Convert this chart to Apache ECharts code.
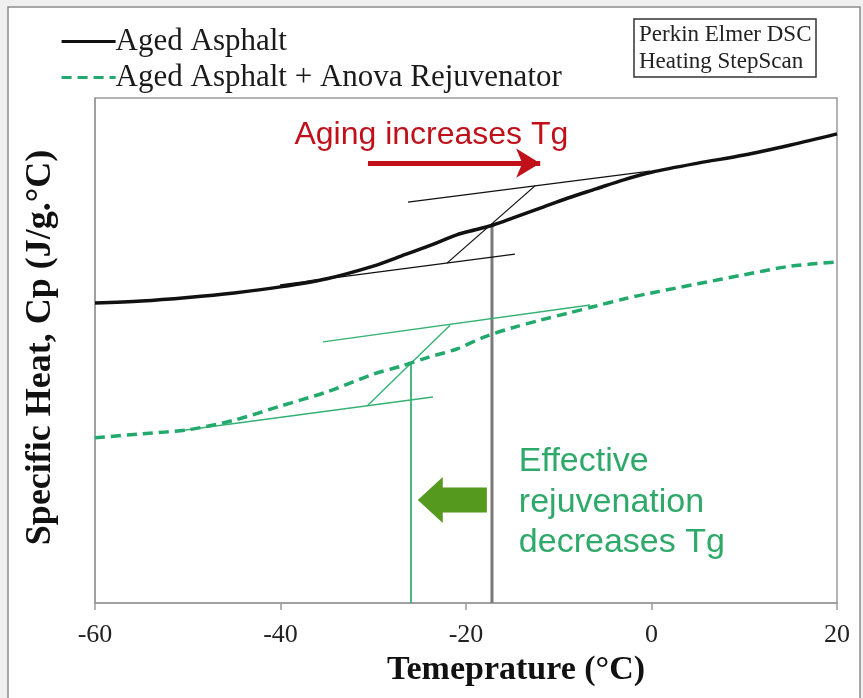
<!DOCTYPE html>
<html>
<head>
<meta charset="utf-8">
<script src="https://cdn.jsdelivr.net/npm/echarts@6/dist/echarts.min.js"></script>
<style>html,body{margin:0;padding:0;background:#f0f0f0;}#c{width:863px;height:698px;}</style>
</head>
<body>
<div id="c"></div>
<script>
// ---- data ----
const xTickLabels = [-60, -40, -20, 0, 20];
const agedTemp = [-60, -55, -50, -45, -40, -35, -30, -27, -24, -21, -19, -17, -15, -12, -9, -6, -3, 0, 5, 10, 15, 20];
const agedCp   = [5.94, 5.98, 6.05, 6.14, 6.26, 6.42, 6.67, 6.87, 7.07, 7.29, 7.39, 7.49, 7.62, 7.82, 8.02, 8.20, 8.38, 8.53, 8.71, 8.87, 9.07, 9.29];
const rejTemp  = [-60, -55, -50, -45, -40, -35, -30, -27, -24, -21, -18, -15, -12, -9, -6, -3, 0, 5, 10, 15, 20];
const rejCp    = [3.27, 3.35, 3.43, 3.62, 3.90, 4.18, 4.53, 4.69, 4.87, 5.03, 5.27, 5.45, 5.60, 5.74, 5.88, 6.02, 6.14, 6.32, 6.50, 6.67, 6.75];
// Tg construction lines [x, Cp]
const agedUpperTan = [[-26.25, 7.94], [-0.16, 8.55]];
const agedLowerTan = [[-40.05, 6.30], [-14.72, 6.91]];
const agedDiag     = [[-22.05, 6.73], [-12.56, 8.26]];
const agedTg       = [[-17.2, 0], [-17.2, 7.49]];
const rejUpperTan  = [[-35.42, 5.17], [-6.63, 5.90]];
const rejLowerTan  = [[-50.84, 3.41], [-23.56, 4.08]];
const rejDiag      = [[-30.67, 3.90], [-21.72, 5.50]];
const rejTg        = [[-25.93, 0], [-25.93, 4.75]];
// annotation anchors (data coords)
const redArrow   = [[-30.57, 8.71], [-12.0, 8.71]];
const greenArrow = [[-25.2, 2.04], [-17.75, 2.04]];

const zip = (a, b) => a.map((v, i) => [v, b[i]]);
const BLACK = '#111111', GREEN = '#22a96c', GLINE = '#35b274';

const chart = echarts.init(document.getElementById('c'));

function seg(data, color, width, z) {
  return { type: 'line', data: data, showSymbol: false, symbol: 'none', silent: true,
           lineStyle: { color: color, width: width }, itemStyle: { color: color }, z: z || 2, animation: false };
}

const option = {
  backgroundColor: '#f0f0f0',
  animation: false,
  title: {
    text: 'Perkin Elmer DSC\nHeating StepScan',
    left: 634, top: 19,
    padding: [2, 5],
    borderColor: '#333', borderWidth: 1.5,
    backgroundColor: '#fff',
    textStyle: { fontFamily: 'Liberation Serif', fontSize: 23, lineHeight: 27, fontWeight: 'normal', color: '#222' }
  },
  legend: {
    data: ['Aged Asphalt', 'Aged Asphalt + Anova Rejuvenator'],
    orient: 'vertical', left: 55, top: 21,
    itemWidth: 54, itemHeight: 14, itemGap: 5,
    itemStyle: { opacity: 0, borderWidth: 0 },
    lineStyle: { width: 3.2 },
    textStyle: { fontFamily: 'Liberation Serif', fontSize: 31, color: '#1a1a1a', lineHeight: 30, padding: [0, 0, 0, -5] }
  },
  grid: { left: 95, right: 26, top: 98, bottom: 95, show: true, borderColor: '#9a9a9a', borderWidth: 1.5, backgroundColor: '#fff' },
  xAxis: {
    type: 'value', min: -60, max: 20, interval: 20,
    name: 'Temeprature (°C)', nameLocation: 'middle', nameGap: 50,
    nameTextStyle: { fontFamily: 'Liberation Serif', fontSize: 34, fontWeight: 'bold', color: '#111', padding: [0, 0, 0, 100] },
    axisLine: { onZero: false, lineStyle: { color: '#9a9a9a', width: 1.5 } },
    axisTick: { show: true, inside: false, length: 7, lineStyle: { color: '#9a9a9a', width: 1.5 } },
    axisLabel: { fontFamily: 'Liberation Serif', fontSize: 26, color: '#222', margin: 19,
                 formatter: v => xTickLabels.includes(v) ? String(v) : '' },
    splitLine: { show: false }
  },
  yAxis: {
    type: 'value', min: 0, max: 10,
    name: 'Specific Heat, Cp (J/g.°C)', nameLocation: 'middle', nameGap: 36,
    nameTextStyle: { fontFamily: 'Liberation Serif', fontSize: 36, fontWeight: 'bold', color: '#111', padding: [0, 0, 0, 6] },
    axisLine: { show: true, onZero: false, lineStyle: { color: '#9a9a9a', width: 1.5 } },
    axisTick: { show: false }, axisLabel: { show: false }, splitLine: { show: false }
  },
  series: [
    Object.assign(seg(agedTg, '#7a7a7a', 3, 3), { name: 'agedTg',
      markLine: { silent: true, symbol: ['none', 'arrow'], symbolSize: [22, 24],
        label: { show: false },
        lineStyle: { color: '#c0111b', width: 5, type: 'solid' },
        data: [[{ coord: redArrow[0] }, { coord: redArrow[1] }]] } }),
    seg(rejTg, GLINE, 1.8, 3),
    seg(agedUpperTan, BLACK, 1.3, 3),
    seg(agedLowerTan, BLACK, 1.3, 3),
    seg(agedDiag, BLACK, 1.3, 3),
    seg(rejUpperTan, GLINE, 1.4, 3),
    seg(rejLowerTan, GLINE, 1.4, 3),
    seg(rejDiag, GLINE, 1.4, 3),
    { name: 'Aged Asphalt', type: 'line', data: zip(agedTemp, agedCp), smooth: 0.3, symbol: 'none', showSymbol: false,
      lineStyle: { color: BLACK, width: 3.5 }, itemStyle: { color: BLACK }, z: 5 },
    { name: 'Aged Asphalt + Anova Rejuvenator', type: 'line', data: zip(rejTemp, rejCp), smooth: 0.3, symbol: 'none', showSymbol: false,
      lineStyle: { color: GREEN, width: 3.5, type: [10, 6] }, itemStyle: { color: GREEN }, z: 5 }
  ]
};
chart.setOption(option);

// annotations positioned from data coordinates
const tip = chart.convertToPixel({ gridIndex: 0 }, greenArrow[0]);
const tail = chart.convertToPixel({ gridIndex: 0 }, greenArrow[1]);
const headLen = 25, headHalf = 23, shaftHalf = 12.5;
const redTxt = chart.convertToPixel({ gridIndex: 0 }, [-38.5, 9.27]);
const greenTxt = chart.convertToPixel({ gridIndex: 0 }, [-14.3, 3.20]);

chart.setOption({
  graphic: [
    { type: 'rect', z: -100, silent: true, shape: { x: 8, y: 7, width: 852, height: 700 },
      style: { fill: '#ffffff', stroke: '#8c8c8c', lineWidth: 1.5 } },
    { type: 'polygon', z: 10, silent: true,
      shape: { points: [
        [tip[0], tip[1]],
        [tip[0] + headLen, tip[1] - headHalf],
        [tip[0] + headLen, tip[1] - shaftHalf],
        [tail[0], tail[1] - shaftHalf],
        [tail[0], tail[1] + shaftHalf],
        [tip[0] + headLen, tip[1] + shaftHalf],
        [tip[0] + headLen, tip[1] + headHalf]
      ] },
      style: { fill: '#55991f' } },
    { type: 'text', z: 10, silent: true, x: redTxt[0], y: redTxt[1],
      style: { text: 'Aging increases Tg', fill: '#c0111b', font: '32px "Liberation Sans"',
               align: 'left', verticalAlign: 'middle' } },
    { type: 'text', z: 10, silent: true, x: greenTxt[0], y: greenTxt[1],
      style: { text: 'Effective\nrejuvenation\ndecreases Tg', fill: '#2fa96a', font: '34px "Liberation Sans"',
               lineHeight: 40.5, align: 'left', verticalAlign: 'top' } }
  ]
});
</script>
</body>
</html>
